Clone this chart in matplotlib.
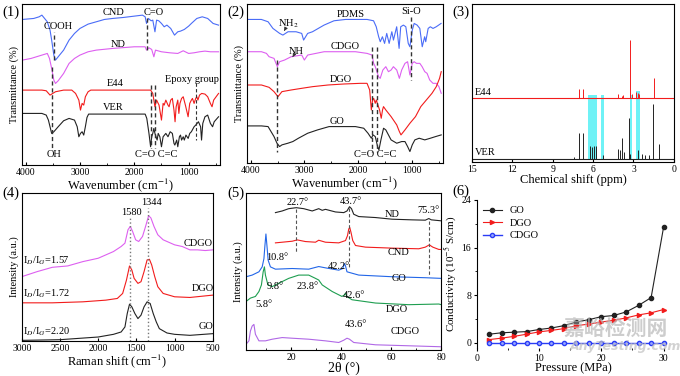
import numpy as np
import matplotlib
matplotlib.use("Agg")
import matplotlib.pyplot as plt
from matplotlib.ticker import MultipleLocator

plt.rcParams['font.family'] = ['Liberation Serif', 'DejaVu Serif']
plt.rcParams['mathtext.fontset'] = 'stix'
plt.rcParams['axes.linewidth'] = 0.8

# ---------------- (1) FTIR of CND / ND / E44 / VER ----------------
cnd_x = [4060, 3850, 3750, 3700, 3650, 3600, 3550, 3520, 3480, 3450, 3400, 3300, 3200, 3100, 3000, 2850,
         2700, 2550, 2400, 2200, 2000, 1850, 1800, 1775, 1740, 1690, 1660, 1620, 1590, 1550, 1500, 1450,
         1400, 1330, 1260, 1200, 1150, 1080, 1000, 950, 850, 750, 650, 550, 450]
cnd_y = [442, 445, 450, 455, 445, 435, 410, 380, 335, 320, 330, 350, 380, 400, 415, 428,
         435, 442, 445, 448, 452, 455, 450, 430, 445, 438, 440, 405, 440, 438, 430, 420,
         425, 415, 395, 405, 407, 412, 422, 430, 445, 450, 445, 430, 425]
nd_x = [4060, 3900, 3800, 3700, 3600, 3560, 3520, 3480, 3450, 3400, 3300, 3200, 3100, 3000, 2850, 2700,
        2400, 2000, 1800, 1775, 1730, 1680, 1640, 1610, 1500, 1350, 1200, 1100, 1000, 900, 800, 700, 600, 450]
nd_y = [320, 325, 330, 335, 340, 325, 295, 260, 250, 258, 280, 310, 325, 335, 345, 350,
        355, 360, 360, 350, 357, 352, 330, 350, 345, 342, 340, 348, 340, 342, 345, 347, 345, 345]
e44_x = [4060, 3700, 3620, 3550, 3450, 3300, 3150, 3080, 3050, 3020, 2990, 2960, 2930, 2900, 2850, 2800,
         2700, 2000, 1800, 1700, 1660, 1620, 1590, 1545, 1500, 1470, 1450, 1420, 1380, 1360, 1330, 1300,
         1270, 1250, 1230, 1200, 1180, 1160, 1130, 1100, 1060, 1010, 980, 950, 930, 900, 870, 850, 830,
         800, 760, 700, 650, 600, 570, 540, 450]
e44_y = [230, 230, 228, 215, 225, 230, 230, 220, 210, 200, 170, 190, 185, 210, 225, 230,
         230, 230, 230, 230, 220, 180, 200, 185, 140, 190, 185, 200, 185, 180, 200, 205,
         170, 135, 180, 200, 160, 190, 205, 210, 185, 150, 190, 200, 205, 190, 205, 210, 200,
         215, 220, 218, 210, 190, 180, 200, 220]
ver_x = [4060, 3700, 3620, 3580, 3550, 3520, 3480, 3400, 3300, 3200, 3100, 3050, 3020, 2990, 2960, 2930,
         2900, 2870, 2840, 2700, 2000, 1800, 1770, 1730, 1700, 1680, 1660, 1640, 1620, 1600, 1580, 1560,
         1530, 1500, 1470, 1420, 1380, 1340, 1300, 1270, 1254, 1220, 1200, 1170, 1150, 1130, 1100, 1080,
         1050, 1009, 980, 950, 900, 870, 820, 780, 763, 740, 700, 650, 600, 560, 530, 450]
ver_y = [160, 160, 155, 140, 120, 100, 105, 120, 138, 145, 140, 120, 90, 100, 105, 95,
         120, 148, 158, 158, 158, 158, 145, 100, 60, 90, 100, 115, 100, 90, 80, 100,
         90, 60, 90, 100, 90, 105, 100, 70, 65, 80, 60, 90, 95, 80, 90, 80,
         95, 85, 100, 105, 120, 125, 135, 120, 80, 130, 150, 155, 130, 120, 135, 150]

# ---------------- (2) FTIR of PDMS / CDGO / DGO / GO ----------------
pdms_x = [4060, 3800, 3675, 3585, 3460, 3400, 3305, 3155, 3050, 3015, 2940, 2850, 2635, 2450, 2235, 1835,
          1715, 1665, 1620, 1590, 1550, 1510, 1470, 1425, 1375, 1345, 1285, 1240, 1210, 1160, 1115, 1070,
          1040, 995, 960, 905, 855, 810, 765, 745, 700, 660, 610, 550, 460]
pdms_y = [442, 442, 435, 415, 400, 395, 405, 405, 400, 380, 400, 405, 425, 438, 442, 442,
          438, 420, 390, 375, 390, 370, 400, 370, 405, 380, 420, 355, 420, 425, 420, 370,
          360, 410, 430, 425, 415, 360, 390, 375, 415, 420, 415, 420, 430]
cdgo_x = [4060, 3798, 3706, 3657, 3565, 3503, 3461, 3369, 3246, 3050, 3001, 2939, 2633, 2449, 2051, 1836,
          1744, 1713, 1683, 1652, 1622, 1591, 1542, 1487, 1438, 1389, 1346, 1284, 1235, 1192, 1131, 1082,
          1039, 996, 960, 917, 855, 812, 763, 720, 671, 610, 549, 500, 457]
cdgo_y = [345, 345, 340, 330, 325, 300, 315, 320, 330, 335, 320, 335, 345, 345, 345, 340,
          335, 310, 300, 285, 270, 265, 290, 300, 285, 290, 300, 290, 265, 290, 310, 315,
          275, 310, 315, 310, 310, 300, 285, 280, 260, 250, 250, 240, 220]
dgo_x = [4060, 3798, 3657, 3565, 3491, 3418, 3246, 3050, 2848, 2560, 2265, 1959, 1836, 1787, 1756, 1732,
         1713, 1683, 1664, 1634, 1603, 1572, 1548, 1530, 1487, 1389, 1284, 1235, 1205, 1131, 1039, 935,
         837, 733, 629, 549, 488, 457]
dgo_y = [245, 245, 238, 225, 210, 225, 230, 235, 240, 245, 248, 250, 250, 230, 170, 200,
         205, 190, 200, 185, 170, 145, 170, 180, 170, 150, 125, 105, 95, 110, 130, 150,
         180, 200, 220, 240, 265, 285]
go_x = [4060, 3798, 3675, 3657, 3565, 3510, 3461, 3418, 3307, 3215, 3111, 2939, 2756, 2541, 2265, 2051,
        1897, 1818, 1756, 1725, 1683, 1640, 1615, 1578, 1529, 1487, 1389, 1284, 1192, 1131, 1082, 1039,
        996, 947, 867, 763, 659, 561, 457]
go_y = [122, 122, 120, 115, 90, 70, 60, 65, 70, 75, 85, 100, 110, 120, 120, 120,
        115, 100, 85, 95, 90, 60, 50, 80, 115, 110, 80, 70, 75, 75, 60, 45,
        65, 80, 85, 80, 85, 90, 95]

# ---------------- (3) 1H NMR sticks ----------------
e44_base = 205
e44_ppm = [7.05, 6.78, 4.18, 3.89, 3.76, 3.27, 3.14, 2.85, 2.70, 2.57, 1.49]
e44_int = [232, 230, 215, 210, 212, 378, 215, 222, 220, 215, 263]
ver_base = 20
ver_ppm = [7.43, 7.05, 6.78, 6.24, 6.09, 5.92, 5.79, 5.30, 4.13, 4.01, 3.86, 3.71, 3.34, 3.24, 2.65, 2.40,
           2.15, 1.86, 1.53, 1.11]
ver_int = [25, 97, 97, 60, 55, 60, 58, 30, 50, 45, 82, 40, 142, 35, 45, 35,
           32, 30, 187, 65]
band_lo = [5.69, 5.22, 3.14, 2.52]
band_hi = [6.41, 5.40, 3.29, 2.85]
band_top = [213, 213, 213, 225]

# ---------------- (4) Raman ----------------
r_go_x = [3000, 2500, 2000, 1800, 1700, 1650, 1620, 1590, 1560, 1520, 1480, 1440, 1400, 1360, 1320, 1280,
          1240, 1200, 1100, 1000, 800, 500]
r_go_y = [20, 22, 30, 38, 45, 60, 100, 128, 120, 100, 85, 95, 120, 135, 130, 100,
          75, 55, 42, 38, 35, 40]
r_dgo_x = [3000, 2600, 2200, 1900, 1750, 1680, 1630, 1590, 1560, 1530, 1480, 1440, 1400, 1360, 1330, 1300,
           1260, 1220, 1150, 1000, 800, 500]
r_dgo_y = [132, 132, 135, 140, 145, 160, 200, 242, 230, 205, 190, 195, 225, 260, 262, 245,
           210, 180, 160, 150, 148, 155]
r_cdgo_x = [3000, 2800, 2600, 2400, 2200, 2000, 1900, 1800, 1700, 1650, 1610, 1580, 1550, 1510, 1470, 1420,
            1380, 1340, 1310, 1270, 1220, 1150, 1100, 1000, 900, 800, 700, 600, 500]
r_cdgo_y = [210, 225, 238, 242, 255, 265, 275, 285, 300, 310, 350, 360, 345, 320, 315, 330,
            360, 392, 385, 360, 335, 320, 315, 305, 300, 290, 290, 288, 290]

# ---------------- (5) XRD ----------------
x_nd = [13.7, 16.4, 19.0, 22.0, 25.0, 28.4, 31.0, 32.4, 33.7, 37.7, 41.0, 42.3, 43.3, 44.1, 45.0, 47.0,
        53.7, 60.3, 68.3, 73.6, 75.0, 76.0, 80.0]
y_nd = [400, 405, 412, 415, 412, 405, 412, 407, 410, 402, 400, 405, 418, 412, 395, 388,
        385, 380, 378, 377, 382, 378, 375]
x_cnd = [13.7, 16.4, 20.4, 22.4, 25.7, 29.7, 31.0, 33.7, 39.0, 41.7, 42.5, 43.0, 43.4, 43.9, 44.6, 45.7,
         49.7, 60.3, 71.0, 73.6, 75.2, 76.6, 79.0, 80.0]
y_cnd = [308, 310, 313, 317, 312, 310, 316, 310, 308, 315, 330, 350, 355, 340, 315, 300,
         295, 292, 290, 295, 302, 295, 288, 288]
x_go = [2.0, 4.4, 7.1, 8.4, 9.1, 9.5, 9.9, 10.3, 10.8, 11.7, 13.7, 20.4, 27.0, 31.0, 33.7, 39.0,
        40.6, 41.3, 41.7, 42.3, 47.0, 60.3, 73.6, 80.0]
y_go = [205, 210, 220, 235, 260, 300, 335, 300, 255, 235, 228, 230, 228, 236, 232, 225,
        230, 245, 238, 220, 210, 205, 202, 200]
x_dgo = [2.0, 3.7, 5.7, 7.1, 8.1, 8.8, 9.3, 9.7, 10.7, 12.4, 15.0, 19.0, 23.0, 27.0, 29.7, 31.0,
         32.4, 36.4, 40.3, 41.3, 41.7, 42.2, 44.3, 53.7, 67.0, 79.0, 80.0]
y_dgo = [130, 140, 145, 160, 180, 220, 235, 210, 180, 175, 185, 200, 210, 210, 200, 195,
         180, 160, 145, 150, 155, 145, 135, 125, 120, 122, 120]
x_cdgo = [2.0, 3.1, 3.7, 4.4, 5.1, 5.7, 7.1, 9.7, 12.4, 16.4, 20.4, 27.0, 33.7, 39.0, 41.0, 42.3,
          43.3, 45.0, 53.7, 67.0, 80.0]
y_cdgo = [0, 10, 40, 55, 60, 30, 10, 10, 15, 20, 18, 15, 10, 5, 12, 18,
          15, 5, -2, -5, -8]

# ---------------- (6) conductivity ----------------
pressure = [2, 4, 6, 8, 10, 12, 14, 16, 18, 20, 22, 24, 26, 28, 30]
cond_go = [1.46, 1.7, 1.8, 1.9, 2.25, 2.5, 2.9, 3.5, 3.9, 4.4, 4.6, 5.2, 6.3, 7.6, 19.4]
cond_dgo = [0.56, 0.8, 1.1, 1.46, 1.85, 2.1, 2.4, 2.9, 3.15, 3.5, 3.8, 4.2, 4.7, 5.05, 5.6]
cond_cdgo = [0.0, 0.0, 0.0, 0.0, 0.0, 0.0, 0.0, 0.0, 0.0, 0.0, 0.0, 0.0, 0.0, 0.0, 0.0]

BLUE = '#4a6cf7'
MAG = '#dd5ff0'
RED = '#f21c1c'
BLK = '#222222'
FS = 7.5

fig = plt.figure(figsize=(6.8, 3.76), dpi=100)


def style(ax):
    ax.tick_params(direction='in', labelsize=7, pad=2, length=2.5)
    ax.tick_params(which='minor', direction='in', length=1.5)


def dash(ax, x, y0, y1, **kw):
    ax.plot([x, x], [y0, y1], ls=(0, (3, 2)), color=kw.get('color', '#333333'), lw=kw.get('lw', 1.0))


# panel 1
ax1 = fig.add_axes([0.032, 0.561, 0.291, 0.428])
ax1.plot(cnd_x, cnd_y, color=BLUE, lw=0.8)
ax1.plot(nd_x, nd_y, color=MAG, lw=0.8)
ax1.plot(e44_x, e44_y, color=RED, lw=0.8)
ax1.plot(ver_x, ver_y, color=BLK, lw=0.8)
ax1.set_xlim(4070, 430)
ax1.set_ylim(5, 488)
ax1.set_yticks([])
ax1.set_xticks([4000, 3000, 2000, 1000])
ax1.xaxis.set_minor_locator(MultipleLocator(500))
style(ax1)
ax1.set_xlabel('Wavenumber (cm$^{-1}$)', fontsize=9, labelpad=0)
ax1.set_ylabel('Transmittance (%)', fontsize=7.5, labelpad=2)
dash(ax1, 3480, 320, 405)
dash(ax1, 3520, 300, 55)
dash(ax1, 1775, 445, 345)
dash(ax1, 1700, 245, 55)
dash(ax1, 1620, 245, 55)
dash(ax1, 870, 250, 80, lw=0.8)
for t, x, y in [('CND', 2388, 462), ('C=O', 1652, 462), ('COOH', 3400, 420), ('ND', 2296, 368),
                ('E44', 2357, 250), ('Epoxy group', 947, 262), ('VER', 2388, 178), ('OH', 3479, 38),
                ('C=O C=C', 1591, 38)]:
    ax1.text(x, y, t, fontsize=FS, ha='center', va='center')
fig.text(0.004, 0.968, '(1)', fontsize=10.5, va='center')

# panel 2
ax2 = fig.add_axes([0.363, 0.566, 0.288, 0.423])
ax2.plot(pdms_x, pdms_y, color=BLUE, lw=0.8)
ax2.plot(cdgo_x, cdgo_y, color=MAG, lw=0.8)
ax2.plot(dgo_x, dgo_y, color=RED, lw=0.8)
ax2.plot(go_x, go_y, color=BLK, lw=0.8)
ax2.set_xlim(4070, 430)
ax2.set_ylim(10, 488)
ax2.set_yticks([])
ax2.set_xticks([4000, 3000, 2000, 1000])
ax2.xaxis.set_minor_locator(MultipleLocator(500))
style(ax2)
ax2.set_xlabel('Wavenumber (cm$^{-1}$)', fontsize=9, labelpad=0)
ax2.set_ylabel('Transmittance (%)', fontsize=7.5, labelpad=2)
dash(ax2, 3503, 320, 45)
dash(ax2, 1740, 360, 45)
dash(ax2, 1650, 360, 45)
dash(ax2, 1027, 450, 260)
for t, x, y in [('PDMS', 2143, 458), ('Si-O', 1009, 465), ('NH$_2$', 3307, 428), ('CDGO', 2235, 360),
                ('NH', 3154, 345), ('DGO', 2327, 260), ('GO', 2388, 135), ('C=O C=C', 1683, 35)]:
    ax2.text(x, y, t, fontsize=FS, ha='center', va='center')
ax2.annotate('', xy=(3400, 400), xytext=(3340, 418),
             arrowprops=dict(arrowstyle='-|>', lw=0.6, color='#333333', mutation_scale=5))
ax2.annotate('', xy=(3246, 322), xytext=(3190, 337),
             arrowprops=dict(arrowstyle='-|>', lw=0.6, color='#333333', mutation_scale=5))
fig.text(0.335, 0.968, '(2)', fontsize=10.5, va='center')

# panel 3
ax3 = fig.add_axes([0.694, 0.569, 0.297, 0.420])
for lo, hi, top in zip(band_lo, band_hi, band_top):
    ax3.fill_between([lo, hi], [15, 15], [top, top], color='#6ff2f6', lw=0, zorder=1)
ax3.plot([15, 0], [e44_base, e44_base], color=RED, lw=0.8, zorder=2)
ax3.vlines(e44_ppm, e44_base, e44_int, color=RED, lw=0.7, zorder=2)
ax3.plot([15, 0], [ver_base, ver_base], color=BLK, lw=0.8, zorder=2)
ax3.vlines(ver_ppm, ver_base, ver_int, color=BLK, lw=0.7, zorder=2)
ax3.set_xlim(15, 0)
ax3.set_ylim(10, 488)
ax3.set_yticks([])
ax3.set_xticks([15, 12, 9, 6, 3, 0])
style(ax3)
ax3.set_xlabel('Chemical shift (ppm)', fontsize=9, labelpad=0)
ax3.text(14.8, 222, 'E44', fontsize=FS, va='center')
ax3.text(14.8, 38, 'VER', fontsize=FS, va='center')
fig.text(0.665, 0.968, '(3)', fontsize=10.5, va='center')

# panel 4
ax4 = fig.add_axes([0.032, 0.093, 0.281, 0.394])
ax4.plot(r_go_x, r_go_y, color=BLK, lw=0.8)
ax4.plot(r_dgo_x, r_dgo_y, color=RED, lw=0.8)
ax4.plot(r_cdgo_x, r_cdgo_y, color=MAG, lw=0.8)
ax4.set_xlim(3000, 500)
ax4.set_ylim(18, 460)
ax4.set_yticks([])
ax4.set_xticks([3000, 2500, 2000, 1500, 1000, 500])
style(ax4)
ax4.set_xlabel('Raman shift (cm$^{-1}$)', fontsize=9, labelpad=0)
ax4.set_ylabel('Intensity (a.u.)', fontsize=7.5, labelpad=2)
ax4.plot([1580, 1580], [18, 385], ls=':', color='#777777', lw=1.0)
ax4.plot([1344, 1344], [18, 415], ls=':', color='#777777', lw=1.0)
ax4.text(1567, 400, '1580', fontsize=FS, ha='center', va='center')
ax4.text(1306, 430, '1344', fontsize=FS, ha='center', va='center')
ax4.text(696, 308, 'CDGO', fontsize=FS, ha='center', va='center')
ax4.text(631, 175, 'DGO', fontsize=FS, ha='center', va='center')
ax4.text(587, 60, 'GO', fontsize=FS, ha='center', va='center')
for t, y in [('1.57', 258), ('1.72', 160), ('2.20', 45)]:
    ax4.text(2983, y, 'I$_D$/I$_G$=' + t, fontsize=FS, va='center')
fig.text(0.004, 0.487, '(4)', fontsize=10.5, va='center')

# panel 5
ax5 = fig.add_axes([0.362, 0.069, 0.287, 0.418])
ax5.plot(x_nd, y_nd, color=BLK, lw=0.8)
ax5.plot(x_cnd, y_cnd, color=RED, lw=0.8)
ax5.plot(x_go, y_go, color='#2266e8', lw=0.8)
ax5.plot(x_dgo, y_dgo, color='#1e9e50', lw=0.8)
ax5.plot(x_cdgo, y_cdgo, color='#b068e6', lw=0.8)
ax5.set_xlim(2, 80)
ax5.set_ylim(-18, 460)
ax5.set_yticks([])
ax5.set_xticks([20, 40, 60, 80])
ax5.xaxis.set_minor_locator(MultipleLocator(10))
style(ax5)
ax5.set_xlabel('2θ (°)', fontsize=10, labelpad=0)
ax5.set_ylabel('Intensity (a.u.)', fontsize=7.5, labelpad=2)
dash(ax5, 22.0, 410, 280, color='#555555', lw=0.8)
dash(ax5, 43.3, 415, 235, color='#555555', lw=0.8)
dash(ax5, 75.0, 375, 210, color='#555555', lw=0.8)
for t, x, y in [('22.7°', 22.4, 430), ('43.7°', 43.7, 435), ('75.3°', 75.0, 405), ('ND', 60.3, 395),
                ('CND', 63.0, 280), ('10.8°', 14.4, 262), ('42.2°', 39.0, 235), ('GO', 63.0, 200),
                ('9.8°', 13.7, 175), ('23.8°', 26.4, 175), ('42.6°', 45.0, 148), ('DGO', 62.3, 105),
                ('5.8°', 9.1, 120), ('43.6°', 45.7, 60), ('CDGO', 65.6, 38)]:
    ax5.text(x, y, t, fontsize=FS, ha='center', va='center')
fig.text(0.335, 0.487, '(5)', fontsize=10.5, va='center')

# panel 6
ax6 = fig.add_axes([0.701, 0.0745, 0.284, 0.394])
ax6.plot(pressure, cond_go, color=BLK, lw=0.8, marker='o', ms=3, label='GO')
ax6.plot(pressure, cond_dgo, color=RED, lw=0.8, marker='>', ms=3, label='DGO')
ax6.plot(pressure, cond_cdgo, color='#2a3cf5', lw=1.0, marker='o', ms=3, mfc='#9aa8ff', label='CDGO')
ax6.set_xlim(0, 31)
ax6.set_ylim(-0.85, 24)
ax6.set_xticks([0, 10, 20, 30])
ax6.xaxis.set_minor_locator(MultipleLocator(5))
ax6.set_yticks([0, 8, 16, 24])
ax6.yaxis.set_minor_locator(MultipleLocator(4))
ax6.spines['top'].set_visible(False)
ax6.spines['right'].set_visible(False)
ax6.spines['bottom'].set_visible(False)
ax6.tick_params(labelsize=7, pad=2, length=2)
ax6.tick_params(which='minor', length=1.2)
ax6.set_xlabel('Pressure (MPa)', fontsize=9, labelpad=0)
ax6.set_ylabel('Conductivity (10$^{-5}$ S/cm)', fontsize=8, labelpad=2)
ax6.legend(loc='upper left', frameon=False, fontsize=7.5, handlelength=1.8, borderaxespad=0.2,
           labelspacing=0.3)
fig.text(0.665, 0.492, '(6)', fontsize=10.5, va='center')

# watermark
fig.text(0.905, 0.128, '嘉峪检测网', fontsize=15, color='#b8b8b8', alpha=0.7, ha='center', va='center',
         family=['Noto Sans CJK SC', 'DejaVu Sans'], fontweight='bold')
fig.text(0.92, 0.078, 'AnyTesting.com', fontsize=9, color='#c0c0c0', alpha=0.7, ha='center', va='center',
         family=['DejaVu Sans'], style='italic', fontweight='bold')

fig.savefig('out.png', dpi=100)
